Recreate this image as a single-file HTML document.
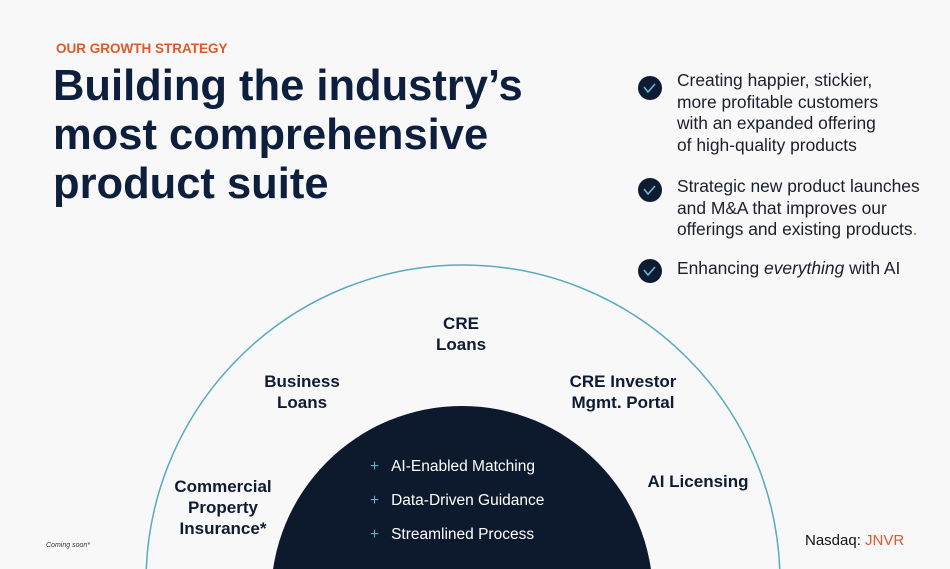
<!DOCTYPE html>
<html style="overflow:hidden;height:569px"><head><meta charset="utf-8"><style>
body{margin:0;width:950px;height:569px;background:#f8f8f8;overflow:hidden;position:relative;font-family:"Liberation Sans",sans-serif;color:#0e1b33}
.a{position:absolute;white-space:nowrap}
.lab{position:absolute;font-weight:bold;font-size:17px;line-height:21px;text-align:center;color:#0e1b33}
.b{position:absolute;left:677px;font-size:17.4px;line-height:21.5px;color:#1a1f2b;white-space:nowrap}
.chk{position:absolute;left:638px;width:24px;height:24px;border-radius:50%;background:#0e1b33}
.pl{color:#5fb0c8;margin-right:12px}
</style></head><body>
<div class="a" style="left:56px;top:41px;font-size:13.5px;font-weight:bold;color:#e0582a">OUR GROWTH STRATEGY</div>
<div class="a" style="left:53px;top:62px;font-size:43.5px;line-height:49px;font-weight:bold;color:#0e1f3d">Building the industry’s<br>most comprehensive<br>product suite</div>

<svg class="a" style="left:0;top:0" width="950" height="569">
<circle cx="463" cy="582" r="317" fill="none" stroke="#5aaabf" stroke-width="1.5"/>
<circle cx="462" cy="597" r="191" fill="#0d192d"/>
<g fill="none" stroke="#6ab8d0" stroke-width="1.6">
<path d="M644 87 l4 5 l7 -8"/><path d="M644 189 l4 5 l7 -8"/><path d="M644 270 l4 5 l7 -8"/>
</g>
</svg>
<div class="chk" style="top:76px;z-index:-1"></div>
<div class="chk" style="top:178px;z-index:-1"></div>
<div class="chk" style="top:259px;z-index:-1"></div>
<div class="b" style="top:70px">Creating happier, stickier,<br>more profitable customers<br>with an expanded offering<br>of high-quality products</div>
<div class="b" style="top:176px">Strategic new product launches<br>and M&amp;A that improves our<br>offerings and existing products<span style="color:#e0582a">.</span></div>
<div class="b" style="top:258px">Enhancing <i>everything</i> with AI</div>

<div class="lab" style="left:411px;top:313px;width:100px">CRE<br>Loans</div>
<div class="lab" style="left:242px;top:371px;width:120px">Business<br>Loans</div>
<div class="lab" style="left:558px;top:371px;width:130px">CRE Investor<br>Mgmt. Portal</div>
<div class="lab" style="left:638px;top:471px;width:120px">AI Licensing</div>
<div class="lab" style="left:163px;top:476px;width:120px">Commercial<br>Property<br>Insurance*</div>

<div class="a" style="left:370px;top:450px;font-size:15.5px;line-height:34px;color:#fff"><span class="pl">+</span>AI-Enabled Matching<br><span class="pl">+</span>Data-Driven Guidance<br><span class="pl">+</span>Streamlined Process</div>

<div class="a" style="left:46px;top:542px;font-size:7px;font-style:italic;color:#333">Coming soon*</div>
<div class="a" style="left:805px;top:532px;font-size:15px;color:#111">Nasdaq: <span style="color:#e0582a">JNVR</span></div>
</body></html>
